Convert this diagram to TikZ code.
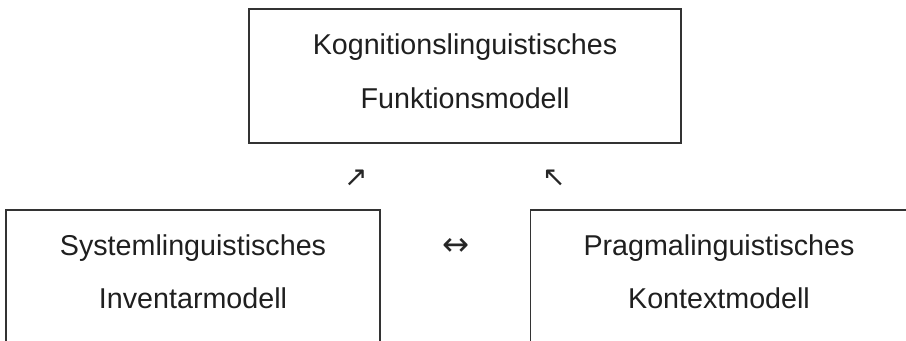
\documentclass[tikz,border=0pt]{standalone}
\usepackage{fontspec}
\setmainfont{Liberation Sans}
\newfontfamily\arrowfont{DejaVu Sans}
\begin{document}
\begin{tikzpicture}[
    box/.style={draw=black!80, line width=1.4pt, rectangle, minimum height=3.3375cm},
    txt/.style={align=center, text=black!88, font=\fontsize{20.4pt}{38pt}\selectfont},
    sym/.style={text=black!85, font=\arrowfont\fontsize{20pt}{24pt}\selectfont}]
\useasboundingbox (0,0) rectangle (22.65,8.525);
\clip (0,0) rectangle (22.65,8.525);
% the three models
\node[box, minimum width=10.8cm](kog) at (11.625,6.619){};
\node[box, minimum width=9.35cm](sys) at (4.825,1.606){};
\node[box, minimum width=9.425cm](prag) at (17.975,1.606){};
\node[txt](kogtxt) at ([yshift=0.12cm]kog.center){Kognitionslinguistisches\\Funktionsmodell};
\node[txt](systxt) at ([yshift=0.12cm]sys.center){Systemlinguistisches\\Inventarmodell};
\node[txt](pragtxt) at ([yshift=0.12cm]prag.center){Pragmalinguistisches\\Kontextmodell};
% relations between them
\node[sym](ne) at (8.9,4.075){↗};
\node[sym](nw) at (13.85,4.075){↖};
\node[sym, font=\arrowfont\fontsize{23pt}{24pt}\selectfont](lr) at (11.4,2.35){↔};

\end{tikzpicture}
\end{document}
